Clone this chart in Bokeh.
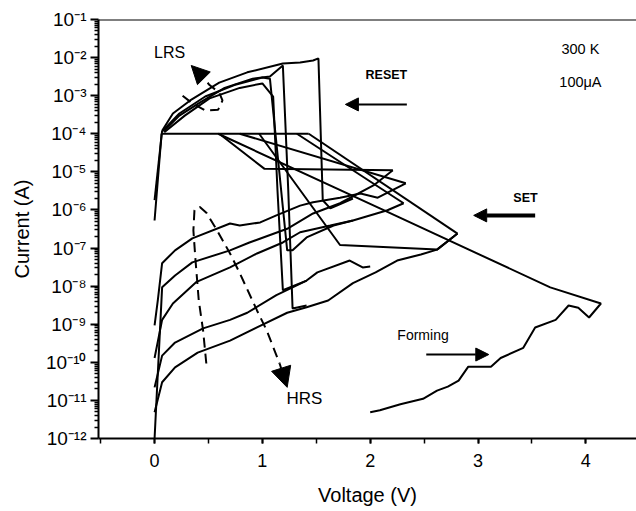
from bokeh.plotting import figure
from bokeh.models import (Range1d, SingleIntervalTicker, FixedTicker, CustomJSTickFormatter,
                          Span, Label, Arrow, NormalHead)
from bokeh.embed import file_html
from bokeh.resources import INLINE

FONT = "Liberation Sans"

# ---------------- data (voltage V, current A) ----------------
forming_v = [2.00, 2.09, 2.28, 2.49, 2.62, 2.72, 2.82, 2.91, 3.12, 3.21, 3.42, 3.53, 3.72, 3.84, 3.93, 4.03, 4.14, 3.67, 2.09, 0.59]
forming_i = [4.9e-12, 5.5e-12, 7.9e-12, 1.1e-11, 1.8e-11, 2.3e-11, 3.3e-11, 7.7e-11, 7.7e-11, 1.3e-10, 2.4e-10, 8.2e-10, 1.3e-9, 3.1e-9, 2.7e-9, 1.5e-9, 3.5e-9, 9.3e-9, 1.1e-6, 1.0e-4]

hrs1_v = [0.00, 0.03, 0.07, 0.19, 0.35, 0.70, 0.79, 0.98, 1.13, 1.35, 1.47, 1.72, 1.91, 2.07, 2.33]
hrs1_i = [9.3e-10, 4.2e-9, 4.0e-8, 8.7e-8, 1.8e-7, 4.4e-7, 3.9e-7, 4.7e-7, 7.2e-7, 1.3e-6, 1.6e-6, 2.1e-6, 2.7e-6, 2.1e-6, 5.0e-6]

hrs2_v = [0.00, 0.07, 0.19, 0.35, 0.70, 0.88, 1.23, 1.47, 1.72, 2.03, 2.21]
hrs2_i = [1.0e-12, 9.3e-9, 1.9e-8, 4.2e-8, 8.7e-8, 1.4e-7, 3.2e-7, 8.1e-7, 1.5e-6, 4.4e-6, 1.1e-5]

hrs3_v = [0.00, 0.07, 0.17, 0.39, 0.70, 0.95, 1.19, 1.35, 1.63, 1.84, 2.16, 2.31]
hrs3_i = [1.3e-10, 1.3e-9, 3.5e-9, 1.3e-8, 3.1e-8, 7.2e-8, 1.4e-7, 2.6e-7, 3.9e-7, 5.3e-7, 9.8e-7, 1.5e-6]

hrs4_v = [0.00, 0.07, 0.19, 0.45, 0.70, 0.86, 1.13, 1.41, 1.51, 1.81, 1.93, 2.00]
hrs4_i = [2.2e-11, 1.5e-10, 3.3e-10, 7.8e-10, 1.3e-9, 2.0e-9, 5.8e-9, 1.4e-8, 2.3e-8, 4.7e-8, 3.1e-8, 3.3e-8]

hrs5_v = [0.00, 0.07, 0.19, 0.40, 0.70, 0.95, 1.23, 1.41, 1.61, 1.84, 2.05, 2.25, 2.47, 2.62, 2.81]
hrs5_i = [4.9e-12, 3.0e-11, 7.4e-11, 1.8e-10, 3.7e-10, 8.3e-10, 2.0e-9, 2.8e-9, 4.2e-9, 1.2e-8, 2.3e-8, 4.7e-8, 6.8e-8, 9.1e-8, 2.4e-7]

set1_v = [1.43, 2.81]
set1_i = [1.0e-4, 2.4e-7]
set2_v = [1.32, 2.31]
set2_i = [1.0e-4, 1.5e-6]
set3_v = [0.97, 1.72, 2.62, 2.81]
set3_i = [1.0e-4, 1.2e-7, 9.1e-8, 2.4e-7]
set4_v = [0.79, 2.33]
set4_i = [1.0e-4, 5.0e-6]
set5_v = [0.60, 1.02, 2.21]
set5_i = [1.0e-4, 1.2e-5, 1.1e-5]

compliance_v = [1.43, 0.065, 0.00]
compliance_i = [1.0e-4, 1.0e-4, 5.3e-7]
lrs_low_v = [0.07, 0.00]
lrs_low_i = [1.2e-4, 1.8e-6]

lrs1_v = [0.07, 0.17, 0.33, 0.60, 0.86, 1.19, 1.35, 1.47, 1.52, 1.56, 1.63, 1.69, 1.84]
lrs1_i = [1.2e-4, 3.4e-4, 7.5e-4, 2.2e-3, 4.1e-3, 7.0e-3, 7.4e-3, 8.4e-3, 9.5e-3, 1.8e-6, 1.1e-6, 1.3e-6, 2.0e-6]

lrs2_v = [0.09, 0.23, 0.42, 0.65, 0.91, 1.07, 1.19, 1.24, 1.28, 1.41]
lrs2_i = [1.2e-4, 3.0e-4, 6.6e-4, 1.6e-3, 2.8e-3, 3.2e-3, 6.2e-3, 3.3e-6, 2.6e-9, 3.1e-9]

lrs3_v = [0.09, 0.28, 0.51, 0.79, 1.00, 1.10, 1.14, 1.19, 1.41]
lrs3_i = [1.1e-4, 3.0e-4, 8.5e-4, 1.6e-3, 2.1e-3, 9.5e-4, 3.3e-6, 7.8e-9, 1.4e-8]

lrs4_v = [0.07, 0.23, 0.47, 0.74, 1.00, 1.07, 1.23, 1.28, 1.41, 1.66, 1.84]
lrs4_i = [1.15e-4, 3.4e-4, 9.5e-4, 1.9e-3, 3.0e-3, 2.8e-3, 8.7e-8, 8.7e-8, 1.9e-7, 3.9e-7, 5.3e-7]

lrs_trend_v = [0.26, 0.35, 0.47, 0.59, 0.63, 0.60, 0.51, 0.45]
lrs_trend_i = [1.0e-3, 6.3e-4, 4.1e-4, 4.3e-4, 7.5e-4, 1.2e-3, 1.9e-3, 3.0e-3]
lrs_tip = (0.34, 6.2e-3)

hrs_trend_v = [0.48, 0.45, 0.41, 0.38, 0.36, 0.37, 0.42, 0.48, 0.58, 0.70, 0.79, 0.95, 1.04, 1.16]
hrs_trend_i = [9.3e-11, 6.9e-10, 4.2e-9, 4.7e-8, 2.9e-7, 9.8e-7, 1.2e-6, 8.5e-7, 2.9e-7, 7.2e-8, 2.2e-8, 2.3e-9, 6.9e-10, 9.3e-11]
hrs_tip = (1.23, 2.2e-11)

y_tick_values = [1e-12, 1e-11, 1e-10, 1e-9, 1e-8, 1e-7, 1e-6, 1e-5, 1e-4, 1e-3, 1e-2, 1e-1]
y_tick_labels = ["10⁻¹²", "10⁻¹¹", "10⁻¹⁰", "10⁻⁹", "10⁻⁸", "10⁻⁷", "10⁻⁶",
                 "10⁻⁵", "10⁻⁴", "10⁻³", "10⁻²", "10⁻¹"]

# ---------------- figure ----------------
p = figure(width=636, height=511, y_axis_type="log",
           x_range=Range1d(-0.52, 4.47), y_range=Range1d(1e-12, 1e-1),
           output_backend="svg", toolbar_location=None,
           min_border_left=98, min_border_right=0, min_border_top=19, min_border_bottom=73,
           x_axis_label="Voltage (V)", y_axis_label="Current (A)")
p.outline_line_color = None
p.xgrid.visible = False
p.ygrid.visible = False

solid = [(forming_v, forming_i), (hrs1_v, hrs1_i), (hrs2_v, hrs2_i), (hrs3_v, hrs3_i),
         (hrs4_v, hrs4_i), (hrs5_v, hrs5_i), (set1_v, set1_i), (set2_v, set2_i),
         (set3_v, set3_i), (set4_v, set4_i), (set5_v, set5_i), (compliance_v, compliance_i),
         (lrs_low_v, lrs_low_i), (lrs1_v, lrs1_i), (lrs2_v, lrs2_i), (lrs3_v, lrs3_i),
         (lrs4_v, lrs4_i)]
for xs, ys in solid:
    p.line(xs, ys, line_color="black", line_width=2)

for xs, ys, tip, hs in [(lrs_trend_v, lrs_trend_i, lrs_tip, 18), (hrs_trend_v, hrs_trend_i, hrs_tip, 20)]:
    p.line(xs, ys, line_color="black", line_width=2, line_dash="10 6")
    p.add_layout(Arrow(end=NormalHead(size=hs, fill_color="black", line_color="black"),
                       x_start=xs[-1], y_start=ys[-1], x_end=tip[0], y_end=tip[1],
                       line_width=2, line_color="black"))

# solid annotation arrows
p.add_layout(Arrow(end=NormalHead(size=13, fill_color="black", line_color="black", line_width=1),
                   x_start=2.34, y_start=5.9e-4, x_end=1.77, y_end=5.9e-4, line_width=2))
p.add_layout(Arrow(end=NormalHead(size=13, fill_color="black", line_color="black", line_width=1),
                   x_start=3.53, y_start=7.2e-7, x_end=2.96, y_end=7.2e-7, line_width=4))
p.add_layout(Arrow(end=NormalHead(size=13, fill_color="black", line_color="black", line_width=1),
                   x_start=2.52, y_start=1.6e-10, x_end=3.10, y_end=1.6e-10, line_width=2))

for txt, x, y, size, style in [("LRS", 0.14, 1.35e-2, "16px", "normal"),
                               ("RESET", 2.15, 3.4e-3, "12.5px", "bold"),
                               ("SET", 3.44, 2.1e-6, "12.5px", "bold"),
                               ("Forming", 2.49, 5.1e-10, "14px", "normal"),
                               ("HRS", 1.39, 1.1e-11, "17px", "normal"),
                               ("300 K", 3.95, 1.7e-2, "14.5px", "normal"),
                               ("100μA", 3.95, 2.3e-3, "14.5px", "normal")]:
    p.add_layout(Label(x=x, y=y, text=txt, text_font=FONT, text_font_size=size,
                       text_font_style=style, text_align="center", text_baseline="middle",
                       text_color="black"))

p.add_layout(Span(location=1e-1, dimension="width", line_color="black", line_width=2))

# axes
p.xaxis.ticker = SingleIntervalTicker(interval=1, num_minor_ticks=2)
minor = [m * v for v in y_tick_values[:-1] for m in range(2, 10)]
p.yaxis.ticker = FixedTicker(ticks=y_tick_values, minor_ticks=minor)
p.yaxis.formatter = CustomJSTickFormatter(args=dict(vals=y_tick_values, labels=y_tick_labels), code="""
    const e = Math.round(Math.log10(tick));
    for (let k = 0; k < vals.length; k++) {
        if (Math.round(Math.log10(vals[k])) === e) return labels[k];
    }
    return "";
""")
for ax in (p.xaxis[0], p.yaxis[0]):
    ax.axis_line_width = 2
    ax.axis_line_color = "black"
    ax.major_tick_line_width = 2
    ax.minor_tick_line_width = 1.5
    ax.major_tick_line_color = "black"
    ax.minor_tick_line_color = "black"
    ax.major_label_text_font = FONT
    ax.major_label_text_color = "black"
    ax.axis_label_text_font = FONT
    ax.axis_label_text_font_size = "20px"
    ax.axis_label_text_font_style = "normal"
    ax.axis_label_text_color = "black"
p.xaxis.major_label_text_font_size = "18px"
p.yaxis.major_label_text_font_size = "19px"
p.xaxis.major_tick_in = 0
p.xaxis.major_tick_out = 5
p.xaxis.minor_tick_in = 0
p.xaxis.minor_tick_out = 5
p.xaxis.major_label_standoff = 10
p.xaxis.axis_label_standoff = 14
p.yaxis.major_tick_in = 0
p.yaxis.major_tick_out = 8
p.yaxis.minor_tick_in = 0
p.yaxis.minor_tick_out = 4
p.yaxis.major_label_standoff = 4
p.yaxis.axis_label_standoff = 10

open("out.html", "w").write(file_html(p, INLINE))
